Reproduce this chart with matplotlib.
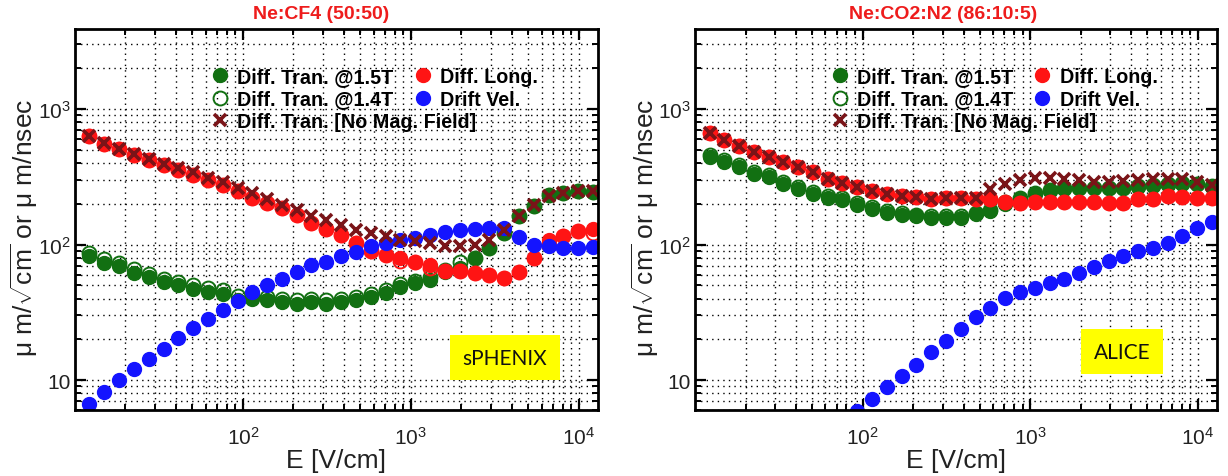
import numpy as np
import matplotlib
matplotlib.use("Agg")
from matplotlib import pyplot as plt
from matplotlib.ticker import LogLocator, NullFormatter

plt.rcParams['font.family'] = ['Liberation Sans', 'DejaVu Sans']
plt.rcParams['mathtext.fontset'] = 'custom'
plt.rcParams['mathtext.rm'] = 'Liberation Sans'
plt.rcParams['mathtext.it'] = 'Liberation Sans:italic'
plt.rcParams['mathtext.bf'] = 'Liberation Sans:bold'

nan = np.nan

# drift field [V/cm], same points for both gases
E = [12.2, 14.9, 18.3, 22.4, 27.5, 33.7, 41.2, 50.5, 61.9, 75.8, 92.9, 114, 139,
     171, 209, 256, 314, 385, 472, 578, 708, 867, 1062, 1303, 1596, 1954, 2393,
     2931, 3594, 4406, 5395, 6607, 8091, 9931, 12160]

# Ne:CF4 (50:50) - sPHENIX
cf4_tran15 = [82, 73, 69, 62, 58, 53, 50, 47, 45, 43.5, 39, 40, 39, 38, 36.7, 37.6, 36.7,
              38, 39, 41, 44, 49, 52, 55, 62.5, 67, 79, 95, 122, 162, 194, 234, 240, 247, 244]
cf4_tran14 = [87, 78, 73, 66, 61, 56, 53, 50, 47.5, 46, 42, 42, 41, 40, 39, 40, 39,
              40, 41, 43, 46, 51, 54, 58, 65, 75, 80, 95, 122, 162, 194, 234, 240, 247, 244]
cf4_nomag = [630, 562, 507, 468, 428, 395, 368, 341, 310, 288, 262, 240, 217, 197, 181, 164,
             152, 140, 129, 122, 115, 109, 106, 103, 97, 97, 100, 109, 129, 162, 197, 227,
             240, 247, 247]
cf4_long = [630, 555, 507, 460, 423, 389, 357, 328, 301, 277, 247, 221, 203, 186, 166, 144,
            130, 118, 103, 89, 84, 80, 75, 71, 64, 64, 62, 60, 57, 63, 80, 108, 115, 125, 130]
cf4_long_open = [630, 555, 507, 460, 423, 389, 357, 328, 301, 277, 247, 221, 203, 186, 166, 144,
                 130, 118, 103, 89, 84, 76, 75, 67, 64, 64, 62, 60, 57, 63, 80, 100, 115, 125, 122]
cf4_drift = [6.7, 8.2, 9.96, 12, 14.4, 17, 20.4, 24.3, 28.3, 33.2, 38.2, 44.5, 50.7, 55.8,
             62.5, 70.4, 74.5, 83, 87.8, 97, 103, 108, 112, 118, 123, 128, 130, 132, 132,
             114, 100, 98, 94, 94, 96]

# Ne:CO2:N2 (86:10:5) - ALICE
co2_tran15 = [445, 409, 371, 331, 313, 282, 256, 238, 222, 212, 196, 182, 172, 165, 162, 158,
              158, 158, 167, 177, 200, 216, 235, 249, 256, 260, 260, 260, 260, 267, 271, 276,
              282, 279, 267]
co2_tran14 = [462, 424, 384, 343, 324, 292, 265, 246, 229, 219, 202, 188, 177, 170, 166, 163,
              163, 163, 171, 181, 205, 222, 240, 254, 260, 264, 264, 264, 264, 270, 274, 280,
              285, 282, 270]
co2_nomag = [664, 592, 537, 485, 440, 404, 371, 346, 304, 287, 267, 249, 235, 229, 224, 216,
             220, 220, 222, 256, 279, 298, 312, 312, 304, 298, 292, 292, 295, 298, 304, 304,
             304, 292, 276]
co2_long = [664, 592, 537, 485, 440, 404, 371, 346, 304, 287, 267, 249, 235, 229, 224, 216,
            220, 220, 216, 216, 207, 204, 207, 207, 207, 207, 207, 204, 204, 216, 216, 229,
            224, 220, 220]
co2_drift = [nan, nan, nan, nan, nan, nan, nan, nan, nan, nan,
             5.96, 7.26, 8.87, 10.8, 13.0, 16.0, 19.4, 24.0, 29.4, 34.3, 40.6, 45.0, 48.2,
             51.9, 56.0, 61.6, 67.9, 75.2, 81.9, 89.2, 94.4, 103, 115, 133, 147]

titles = ['Ne:CF4 (50:50)', 'Ne:CO2:N2 (86:10:5)']
tags = ['sPHENIX', 'ALICE']

green = '#127012'
red = '#ff1414'
blue = '#1414ff'
darkred = '#7a1418'
ms = 10


def draw_panel(ax, tran15, tran14, nomag, long_, long_open, drift, title, tag, title_x, tag_xy):
    ax.plot(E, tran15, 'o', ls='none', ms=ms, color=green, mec=green, label='Diff. Tran. @1.5T')
    ax.plot(E, tran14, 'o', ls='none', ms=ms, mfc='none', mec=green, mew=1.4,
            label='Diff. Tran. @1.4T')
    ax.plot(E, long_, 'o', ls='none', ms=ms, color=red, mec=red, label='Diff. Long.')
    ax.plot(E, long_open, 'o', ls='none', ms=ms, mfc='none', mec=red, mew=1.4)
    ax.plot(E, drift, 'o', ls='none', ms=ms, color=blue, mec=blue, label='Drift Vel.')
    ax.plot(E, nomag, 'x', ls='none', ms=8.5, mew=2.6, color=darkred,
            label='Diff. Tran. [No Mag. Field]')

    ax.set_xscale('log')
    ax.set_yscale('log')
    ax.set_xlim(10, 13000)
    ax.set_ylim(6.0, 3900)

    ax.set_xticks([100, 1000, 10000], ['$10^2$', '$10^3$', '$10^4$'])
    ax.set_yticks([10, 100, 1000], ['10', '$10^2$', '$10^3$'])
    ax.xaxis.set_minor_locator(LogLocator(base=10, subs=np.arange(2, 10)))
    ax.yaxis.set_minor_locator(LogLocator(base=10, subs=np.arange(2, 10)))
    ax.xaxis.set_minor_formatter(NullFormatter())
    ax.yaxis.set_minor_formatter(NullFormatter())
    ax.tick_params(which='both', direction='in', top=True, right=True, colors='black',
                   labelcolor='#222222', labelsize=15)
    ax.tick_params(which='major', length=8, width=1.6)
    ax.tick_params(which='minor', length=4.5, width=1.4)
    ax.tick_params(axis='x', which='major', pad=11)
    ax.tick_params(axis='y', which='major', pad=3)
    for sp in ax.spines.values():
        sp.set_linewidth(2.0)

    ax.grid(True, which='both', color='black', linestyle=(0, (1, 3)), linewidth=1.0)
    ax.set_axisbelow(True)

    ax.set_xlabel('E [V/cm]', fontsize=19, color='#222222')
    ax.xaxis.set_label_coords(0.5, -0.1)
    ax.set_ylabel(r'μ m/$\sqrt{\mathrm{cm}}$ or μ m/nsec', fontsize=19, color='#222222')
    ax.yaxis.set_label_coords(-0.066, 0.48)

    ax.text(title_x, 1.04, title, transform=ax.transAxes, ha='center', va='center',
            fontsize=14, fontweight='bold', color='#ee1c1c')

    ax.text(tag_xy[0], tag_xy[1], tag, transform=ax.transAxes, ha='center', va='center',
            fontsize=15, family=['Lato', 'DejaVu Sans'], color='#111111',
            bbox=dict(boxstyle='square,pad=0.6', fc='#ffff00', ec='none'))

    handles, labels = ax.get_legend_handles_labels()
    lut = dict(zip(labels, handles))
    col1 = ['Diff. Tran. @1.5T', 'Diff. Tran. @1.4T', 'Diff. Tran. [No Mag. Field]']
    col2 = ['Diff. Long.', 'Drift Vel.']
    opts = dict(frameon=False, loc='upper left', borderaxespad=0, borderpad=0,
                handlelength=1.0, handletextpad=0.4, labelspacing=0.17,
                prop={'weight': 'bold', 'size': 14.2})
    leg1 = ax.legend([lut[k] for k in col1], col1, bbox_to_anchor=(0.258, 0.9), **opts)
    ax.add_artist(leg1)
    ax.legend([lut[k] for k in col2], col2, bbox_to_anchor=(0.646, 0.9), **opts)


fig = plt.figure(figsize=(12.28, 4.77), dpi=100)
ax1 = fig.add_axes([0.061, 0.138, 0.426, 0.799])
ax2 = fig.add_axes([0.566, 0.138, 0.425, 0.799])

draw_panel(ax1, cf4_tran15, cf4_tran14, cf4_nomag, cf4_long, cf4_long_open, cf4_drift,
           titles[0], tags[0], 0.47, (0.822, 0.137))
draw_panel(ax2, co2_tran15, co2_tran14, co2_nomag, co2_long, co2_long, co2_drift,
           titles[1], tags[1], 0.475, (0.818, 0.153))

fig.savefig('out.png', dpi=100)
